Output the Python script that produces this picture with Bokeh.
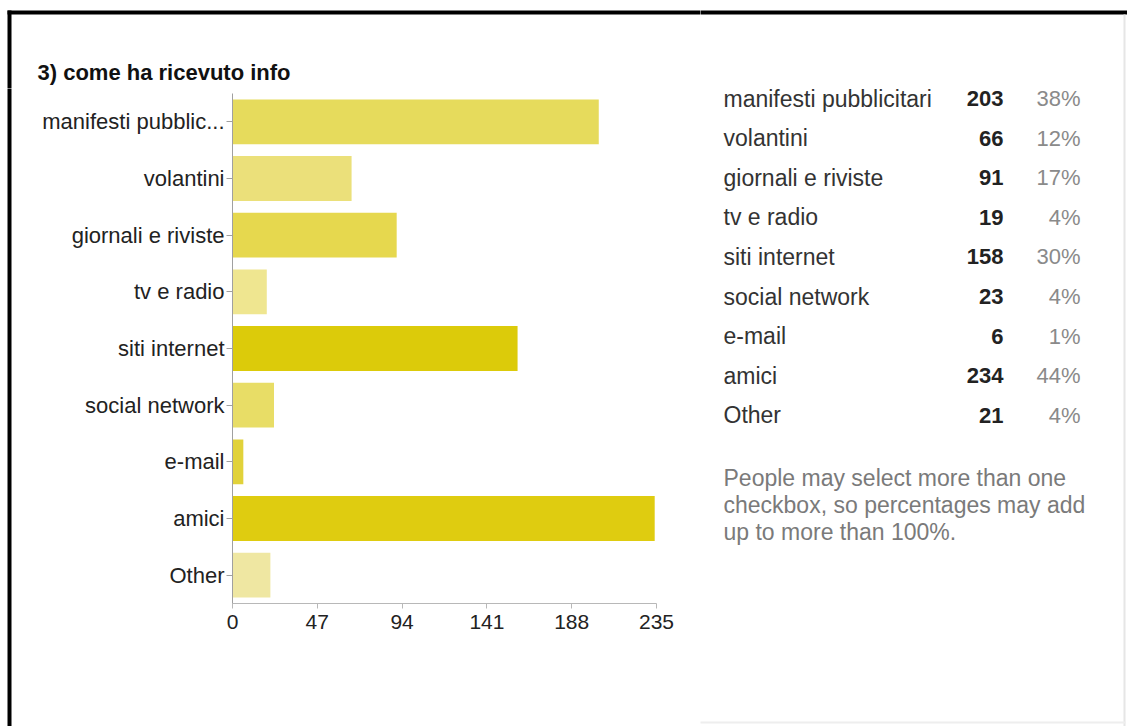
from bokeh.plotting import figure
from bokeh.layouts import row, column
from bokeh.models import FactorRange, Range1d, FixedTicker, ColumnDataSource
from bokeh.core.properties import value
from bokeh.embed import file_html
from bokeh.resources import INLINE

# ---- data ----
categories = ["manifesti pubblicitari", "volantini", "giornali e riviste", "tv e radio",
              "siti internet", "social network", "e-mail", "amici", "Other"]
counts = [203, 66, 91, 19, 158, 23, 6, 234, 21]
percents = ["38%", "12%", "17%", "4%", "30%", "4%", "1%", "44%", "4%"]
axis_labels = ["manifesti pubblic...", "volantini", "giornali e riviste", "tv e radio",
               "siti internet", "social network", "e-mail", "amici", "Other"]
x_ticks = [0, 47, 94, 141, 188, 235]
title_text = "3) come ha ricevuto info"
note_lines = ["People may select more than one",
              "checkbox, so percentages may add",
              "up to more than 100%."]

# ---- styles ----
bar_colors = ["#e6db5c", "#ebe07a", "#e6d84e", "#efe690", "#dccb0a",
              "#e8dd66", "#e1d23a", "#dfcc10", "#efe7a2"]
FONT = "Liberation Sans"
W, H = 1127, 726
TOP_H = 88          # height of the title strip
STRIP_W = 12        # left strip carrying the black frame line
SPLIT = 700         # x where the text panel starts
FL, FR, FT, FB = 232, 656, 93, 603   # chart frame in window pixels


def pixel_fig(x0, x1, y0, y1):
    f = figure(width=x1 - x0, height=y1 - y0, output_backend="svg", toolbar_location=None,
               x_range=Range1d(x0, x1), y_range=Range1d(y1, y0),
               x_axis_location=None, y_axis_location=None,
               min_border=0, min_border_left=0, min_border_right=0,
               min_border_top=0, min_border_bottom=0)
    f.outline_line_color = None
    f.xgrid.visible = False
    f.ygrid.visible = False
    f.background_fill_color = "white"
    f.border_fill_color = "white"
    return f


def rect_px(f, l, r, t, b, color):
    f.quad(left=[l], right=[r], top=[t], bottom=[b], fill_color=color, line_color=None)


# ---- title strip (left part) ----
top = pixel_fig(0, SPLIT, 0, TOP_H)
rect_px(top, 7, SPLIT + 3, 10, 14, "black")
rect_px(top, 7, 11, 10, TOP_H + 3, "black")
top.text(x=[37], y=[72], text=[title_text], text_font=value(FONT), text_font_size="22px",
         text_font_style="bold", text_color="#111111", text_baseline="alphabetic",
         text_align="left")

# ---- left strip ----
strip = pixel_fig(0, STRIP_W, TOP_H, H)
rect_px(strip, 7, 11, TOP_H - 3, H, "black")

# ---- bar chart ----
cw = SPLIT - STRIP_W
p = figure(width=cw, height=H - TOP_H, output_backend="svg", toolbar_location=None,
           y_range=FactorRange(factors=list(reversed(axis_labels))),
           x_range=Range1d(0, 235),
           min_border_left=FL - STRIP_W, min_border_right=SPLIT - FR,
           min_border_top=FT - TOP_H, min_border_bottom=H - FB)

src = ColumnDataSource(dict(cat=axis_labels, val=counts, color=bar_colors))
p.hbar(y="cat", right="val", left=0, height=0.79, fill_color="color",
       line_color=None, source=src)

p.outline_line_color = None
p.xgrid.visible = False
p.ygrid.visible = False
p.background_fill_color = "white"
p.border_fill_color = "white"

xa = p.xaxis[0]
xa.ticker = FixedTicker(ticks=x_ticks)
xa.minor_tick_line_color = None
xa.axis_line_color = "#b8b8b8"
xa.major_tick_line_color = "#b8b8b8"
xa.major_tick_in = 0
xa.major_tick_out = 5
xa.major_label_standoff = 6
xa.major_label_text_font = FONT
xa.major_label_text_font_size = "21px"
xa.major_label_text_color = "#222222"

ya = p.yaxis[0]
ya.axis_line_color = "#a0a0a0"
ya.major_tick_line_color = "#a0a0a0"
ya.major_tick_in = 0
ya.major_tick_out = 6
ya.major_label_standoff = 2
ya.major_label_text_font = FONT
ya.major_label_text_font_size = "22px"
ya.major_label_text_color = "#222222"

# ---- text panel (table + note), full height ----
t = pixel_fig(SPLIT, W, 0, H)
rect_px(t, SPLIT - 3, W, 10, 14, "black")
rect_px(t, 1123, 1125, 14, H, "#e6e6e6")
rect_px(t, SPLIT - 3, 1125, 721, 723, "#eeeeee")

row0, step = 98, 39.6
ys = [row0 + i * step for i in range(len(categories))]
tsrc = ColumnDataSource(dict(y=ys, cat=categories, n=[str(c) for c in counts], pct=percents))
t.text(x=723, y="y", text="cat", source=tsrc, text_font=value(FONT), text_font_size="23px",
       text_color="#333333", text_baseline="alphabetic", text_align="left")
t.text(x=1003, y="y", text="n", source=tsrc, text_font=value(FONT), text_font_size="22px",
       text_font_style="bold", text_color="#222222", text_baseline="alphabetic",
       text_align="right")
t.text(x=1080, y="y", text="pct", source=tsrc, text_font=value(FONT), text_font_size="22px",
       text_color="#8a8a8a", text_baseline="alphabetic", text_align="right")

t.text(x=[723] * len(note_lines), y=[477 + j * 27 for j in range(len(note_lines))],
       text=note_lines, text_font=value(FONT), text_font_size="23px",
       text_color="#7a7a7a", text_baseline="alphabetic", text_align="left")

left_block = column(top, row(column(strip), p, spacing=0), spacing=0)
layout = row(left_block, t, spacing=0)
open("out.html", "w").write(file_html(layout, INLINE))
